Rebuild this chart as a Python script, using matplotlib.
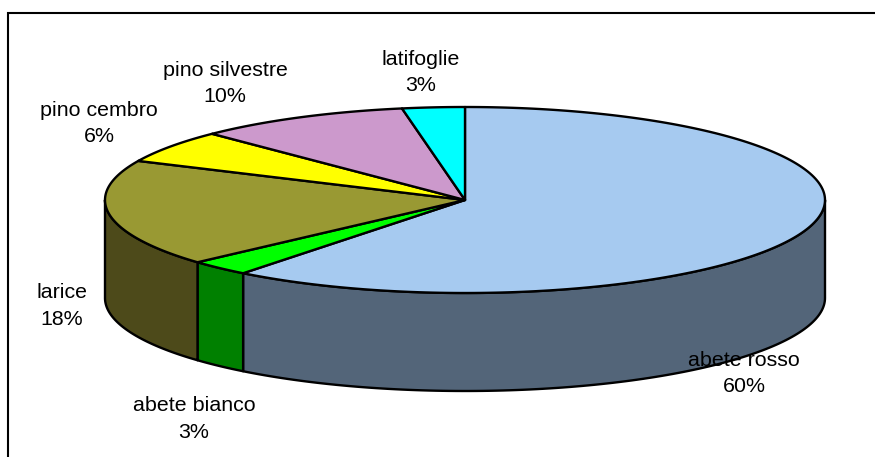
import numpy as np
import matplotlib
matplotlib.use("Agg")
import matplotlib.pyplot as plt
from matplotlib.patches import Polygon

plt.rcParams['font.family'] = ['Liberation Sans', 'DejaVu Sans']

species = ['abete rosso', 'abete bianco', 'larice', 'pino cembro', 'pino silvestre', 'latifoglie']
shares = [60.57, 2.76, 18.57, 5.7, 9.6, 2.8]
share_labels = ['60%', '3%', '18%', '6%', '10%', '3%']
top_colors = ['#A6CAF0', '#00FF00', '#999933', '#FFFF00', '#CC99CC', '#00FFFF']
side_colors = ['#536579', '#008000', '#4D4A1A', '#808000', '#664C66', '#008080']

# pie geometry, in pixels of the picture
cx, cy = 465, 200
rx, ry = 360, 93
depth = 98
label_pos = [(744, 373.5), (194, 419), (62, 306), (99, 123.5), (225, 83.5), (421, 72.5)]


def ellipse_pts(a0, a1, n=120):
    # angles in degrees, clockwise from the top
    t = np.radians(np.linspace(a0, a1, n))
    return cx + rx * np.sin(t), cy - ry * np.cos(t)


fig = plt.figure(figsize=(8.75, 4.57), dpi=100)
ax = fig.add_axes([0, 0, 1, 1])
ax.set_xlim(0, 875)
ax.set_ylim(457, 0)
ax.axis('off')

# chart frame only shows on the left and top
ax.plot([8, 8, 875], [457, 13, 13], color='black', lw=1.5, solid_joinstyle='miter', zorder=1)

edges = np.cumsum([0] + shares) / sum(shares) * 360

# outer wall, only the front half of the rim shows
for i in range(len(shares)):
    a0 = max(edges[i], 90)
    a1 = min(edges[i + 1], 270)
    if a1 <= a0:
        continue
    x, y = ellipse_pts(a0, a1)
    pts = np.vstack([np.column_stack([x, y]), np.column_stack([x[::-1], y[::-1] + depth])])
    ax.add_patch(Polygon(pts, closed=True, fc=side_colors[i], ec='black', lw=1.7, joinstyle='round', zorder=2))

# top face
for i in range(len(shares)):
    x, y = ellipse_pts(edges[i], edges[i + 1], 200)
    pts = np.vstack([[cx, cy], np.column_stack([x, y])])
    ax.add_patch(Polygon(pts, closed=True, fc=top_colors[i], ec='black', lw=1.7, joinstyle='round', zorder=3))

for name, pct, (lx, ly) in zip(species, share_labels, label_pos):
    ax.text(lx, ly, name + '\n' + pct, ha='center', va='center', fontsize=15.4, color='black',
            linespacing=1.49, zorder=5)

fig.savefig('out.png', dpi=100)
